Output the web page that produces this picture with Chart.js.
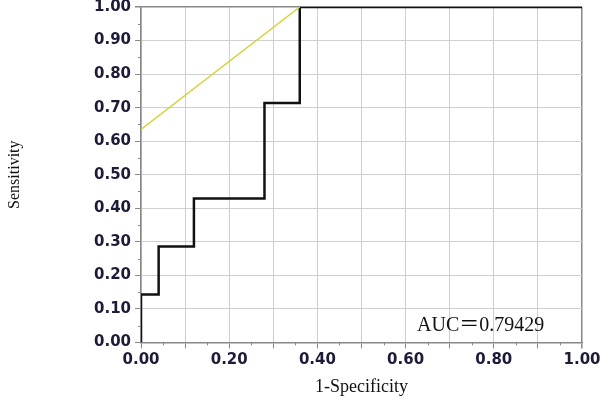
<!DOCTYPE html>
<html><head><meta charset="utf-8">
<script src="https://cdn.jsdelivr.net/npm/chart.js@4"></script>
<style>
html,body{margin:0;padding:0;background:#fff;}
#wrap{position:relative;width:600px;height:400px;}
#auc{position:absolute;left:417px;top:308px;font-family:"Liberation Serif","DejaVu Serif",serif;font-size:20px;color:#111;white-space:nowrap;}
#auc span{font-family:"Noto Sans CJK SC",sans-serif;font-size:20px;}
</style></head><body>
<div id="wrap"><canvas id="c" width="600" height="400"></canvas><div id="auc">AUC<span>＝</span>0.79429</div></div>
<script>
// ROC curve (1-Specificity, Sensitivity) corner points
const fpr = [0, 0, 0.04, 0.04, 0.12, 0.12, 0.28, 0.28, 0.36, 0.36, 1.00];
const tpr = [0, 0.143, 0.143, 0.286, 0.286, 0.429, 0.429, 0.714, 0.714, 1.00, 1.00];
// reference (yellow) line
const refX = [0, 0.36];
const refY = [0.635, 1.00];
const xTitle = '1-Specificity';
const yTitle = 'Sensitivity';

const tickFont = {family:'"DejaVu Sans", Verdana, sans-serif', size:15, weight:'bold'};
const tickColor = '#1c1c38';

const minorTicks = {
  id:'minorTicks',
  afterDraw(chart){
    const ctx = chart.ctx, xs = chart.scales.x, ys = chart.scales.y;
    ctx.save();
    ctx.strokeStyle = '#888'; ctx.lineWidth = 1;
    for(let v=0.05; v<1; v+=0.1){
      const px = Math.round(xs.getPixelForValue(v))+0.5;
      ctx.beginPath(); ctx.moveTo(px, ys.bottom); ctx.lineTo(px, ys.bottom+3); ctx.stroke();
      const py = Math.round(ys.getPixelForValue(v))+0.5;
      ctx.beginPath(); ctx.moveTo(xs.left, py); ctx.lineTo(xs.left-3, py); ctx.stroke();
    }
    ctx.restore();
  }
};

new Chart(document.getElementById('c'), {
  type:'scatter',
  data:{datasets:[
    {data: refX.map((x,i)=>({x, y:refY[i]})), showLine:true, borderColor:'#d6d23c', borderWidth:1.5, pointRadius:0, fill:false},
    {data: fpr.map((x,i)=>({x, y:tpr[i]})), showLine:true, borderColor:'#111', borderWidth:2.5, pointRadius:0, fill:false}
  ]},
  options:{
    responsive:false, animation:false,
    layout:{padding:{left:0, right:18, top:7, bottom:2}},
    plugins:{legend:{display:false}, tooltip:{enabled:false}},
    scales:{
      x:{type:'linear', min:0, max:1,
        ticks:{stepSize:0.1, autoSkip:false, maxRotation:0, font:tickFont, color:tickColor, padding:3,
          callback:(v)=> (Math.round(v*10)%2===0) ? v.toFixed(2) : ''},
        grid:{color:(c)=> c.tick && Math.abs(c.tick.value-1)<1e-6 ? '#888' : '#cfcfcf', lineWidth:(c)=> c.tick && Math.abs(c.tick.value-1)<1e-6 ? 1.5 : 1, tickLength:6, tickColor:'#888'},
        border:{color:'#888', width:1.5},
        title:{display:true, text:xTitle, font:{family:'"Liberation Serif", "Times New Roman", serif', size:18}, color:'#111', padding:{top:4, bottom:0}},
        afterFit(s){ s.paddingRight = 0; s.paddingLeft = 0; }
      },
      y:{type:'linear', min:0, max:1,
        ticks:{stepSize:0.1, autoSkip:false, font:tickFont, color:tickColor, padding:4,
          callback:(v)=> v.toFixed(2)},
        grid:{color:(c)=> c.tick && Math.abs(c.tick.value-1)<1e-6 ? '#888' : '#cfcfcf', lineWidth:(c)=> c.tick && Math.abs(c.tick.value-1)<1e-6 ? 1.5 : 1, tickLength:6, tickColor:'#888'},
        border:{color:'#888', width:1.5},
        title:{display:true, text:yTitle, font:{family:'"Liberation Serif", "Times New Roman", serif', size:16}, color:'#111', padding:{top:5, bottom:0}},
        afterFit(s){ s.width = 141; s.paddingTop = 0; s.paddingBottom = 0; }
      }
    }
  },
  plugins:[minorTicks]
});
</script>
</body></html>
